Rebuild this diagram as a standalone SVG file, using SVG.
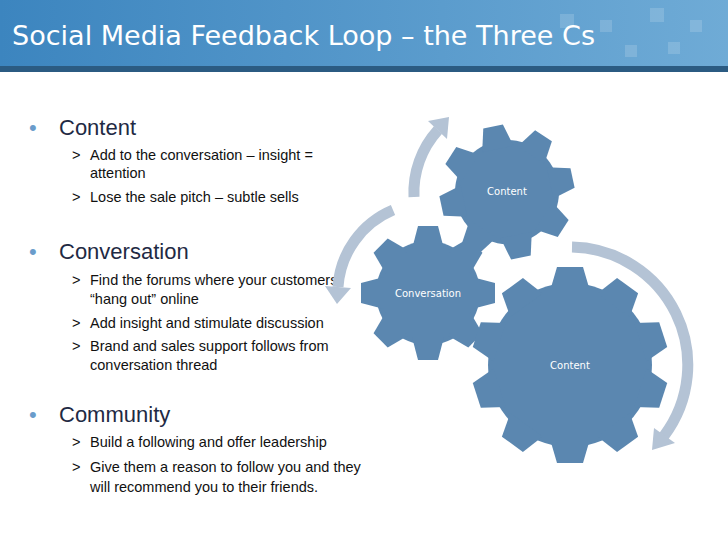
<svg xmlns="http://www.w3.org/2000/svg" xmlns:xlink="http://www.w3.org/1999/xlink" width="728" height="546" viewBox="0 0 728 546">
<style>
.b{font-family:"Liberation Sans",Arial,sans-serif;font-size:22px;fill:#1f2a44}
.s{font-family:"Liberation Sans",Arial,sans-serif;font-size:14.5px;fill:#111}
.dot{font-family:"Liberation Sans",sans-serif;font-size:22px;fill:#6a9ccb}
.gt{font-family:"DejaVu Sans",sans-serif;font-size:10px;fill:#fff;text-anchor:middle}
.gear{fill:#5b87b0}
.arc{fill:none;stroke:#b4c3d5;stroke-width:11}
.ah{fill:#b4c3d5}
</style>
<defs>
<linearGradient id="hg" x1="0" x2="1" y1="0" y2="0"><stop offset="0" stop-color="#3c85bf"/><stop offset="1" stop-color="#6fabd6"/></linearGradient>
<polygon id="t1" points="-16,-44 16,-44 10,-67 -10,-67"/>
<polygon id="t2" points="-20,-74 20,-74 13,-98 -13,-98"/>
</defs>
<rect width="728" height="546" fill="#fff"/>
<rect width="728" height="67" fill="url(#hg)"/>
<rect y="66" width="728" height="6" fill="#2b5b82"/>
<g fill="#fff" opacity="0.15"><rect x="560" y="14" width="14" height="14"/><rect x="600" y="20" width="12" height="12"/><rect x="650" y="8" width="14" height="14"/><rect x="690" y="20" width="12" height="12"/><rect x="668" y="42" width="12" height="12"/><rect x="625" y="45" width="12" height="12"/></g>
<text x="12" y="45" font-family="'DejaVu Sans Condensed','Open Sans',sans-serif" font-size="27" fill="#fff" textLength="583" lengthAdjust="spacingAndGlyphs">Social Media Feedback Loop – the Three Cs</text>

<g id="text">
<text class="dot" x="29" y="135">•</text><text class="b" x="59" y="135">Content</text>
<text class="s" x="72" y="160">&gt;</text><text class="s" x="90" y="160">Add to the conversation – insight =</text>
<text class="s" x="90" y="178">attention</text>
<text class="s" x="72" y="202">&gt;</text><text class="s" x="90" y="202">Lose the sale pitch – subtle sells</text>
<text class="dot" x="29" y="259">•</text><text class="b" x="59" y="259">Conversation</text>
<text class="s" x="72" y="285">&gt;</text><text class="s" x="90" y="285">Find the forums where your customers</text>
<text class="s" x="90" y="304">“hang out” online</text>
<text class="s" x="72" y="328">&gt;</text><text class="s" x="90" y="328">Add insight and stimulate discussion</text>
<text class="s" x="72" y="351">&gt;</text><text class="s" x="90" y="351">Brand and sales support follows from</text>
<text class="s" x="90" y="370">conversation thread</text>
<text class="dot" x="29" y="422">•</text><text class="b" x="59" y="422">Community</text>
<text class="s" x="72" y="447">&gt;</text><text class="s" x="90" y="447">Build a following and offer leadership</text>
<text class="s" x="72" y="472">&gt;</text><text class="s" x="90" y="472">Give them a reason to follow you and they</text>
<text class="s" x="90" y="492">will recommend you to their friends.</text>
</g>

<g id="connectors">
<path class="arc" d="M414 197 A93 93 0 0 1 438 130"/>
<polygon class="ah" points="449,117 428,121 447,139"/>
<path class="arc" d="M393 210 A90 90 0 0 0 338 287"/>
<polygon class="ah" points="337,304 325,286 351,288"/>
<path class="arc" d="M572 247 A118 118 0 0 1 664 436"/>
<polygon class="ah" points="652,450 675,443 654,428"/>
</g>

<g id="gear-content-top" class="gear" transform="translate(507,192) rotate(-12)">
<circle r="52"/>
<use xlink:href="#t1"/><use xlink:href="#t1" transform="rotate(45)"/><use xlink:href="#t1" transform="rotate(90)"/><use xlink:href="#t1" transform="rotate(135)"/><use xlink:href="#t1" transform="rotate(180)"/><use xlink:href="#t1" transform="rotate(225)"/><use xlink:href="#t1" transform="rotate(270)"/><use xlink:href="#t1" transform="rotate(315)"/>
</g>
<text class="gt" x="507" y="195">Content</text>

<g id="gear-conversation" class="gear" transform="translate(428,293)">
<circle r="52"/>
<use xlink:href="#t1"/><use xlink:href="#t1" transform="rotate(45)"/><use xlink:href="#t1" transform="rotate(90)"/><use xlink:href="#t1" transform="rotate(135)"/><use xlink:href="#t1" transform="rotate(180)"/><use xlink:href="#t1" transform="rotate(225)"/><use xlink:href="#t1" transform="rotate(270)"/><use xlink:href="#t1" transform="rotate(315)"/>
</g>
<text class="gt" x="428" y="297">Conversation</text>

<g id="gear-content-large" class="gear" transform="translate(570,365)">
<circle r="82"/>
<use xlink:href="#t2"/><use xlink:href="#t2" transform="rotate(36)"/><use xlink:href="#t2" transform="rotate(72)"/><use xlink:href="#t2" transform="rotate(108)"/><use xlink:href="#t2" transform="rotate(144)"/><use xlink:href="#t2" transform="rotate(180)"/><use xlink:href="#t2" transform="rotate(216)"/><use xlink:href="#t2" transform="rotate(252)"/><use xlink:href="#t2" transform="rotate(288)"/><use xlink:href="#t2" transform="rotate(324)"/>
</g>
<text class="gt" x="570" y="369">Content</text>
</svg>
